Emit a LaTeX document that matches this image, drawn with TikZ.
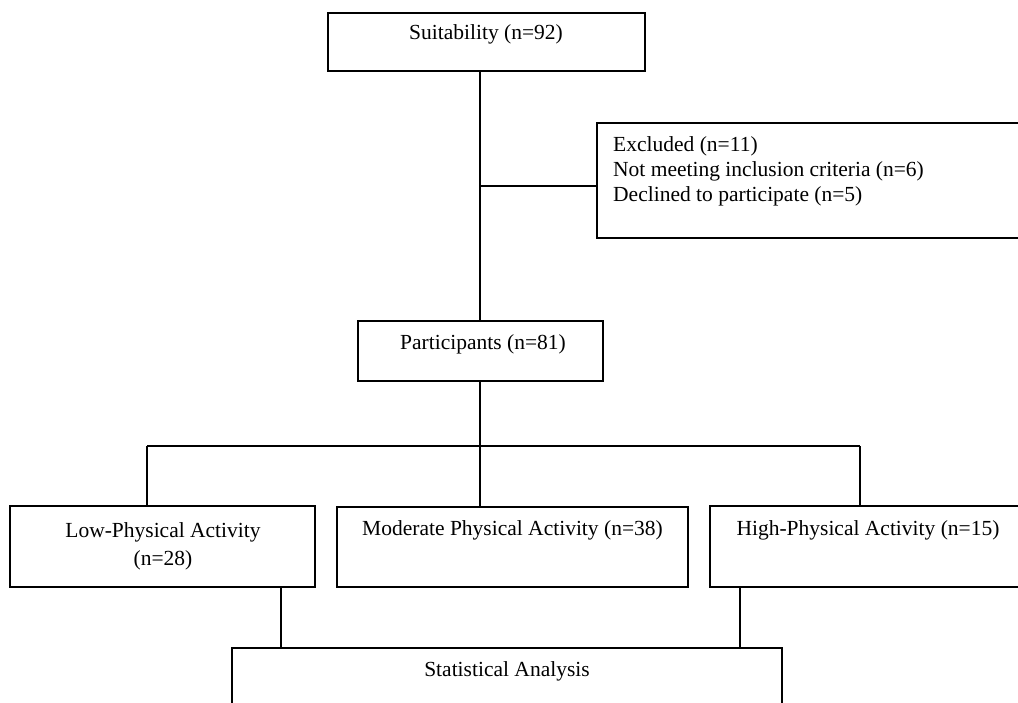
\documentclass[tikz,border=0pt]{standalone}
\usepackage{fontspec}
\setmainfont{Liberation Serif}
\usetikzlibrary{positioning}

\begin{document}
\begin{tikzpicture}[x=1pt,y=-1pt,
  box/.style={draw, line width=1.2pt, inner sep=0pt, fill=white},
  txt/.style={inner sep=0pt, font=\fontsize{21.5}{25}\selectfont},
  conn/.style={line width=1.2pt}]
\useasboundingbox (0,0) rectangle (1018,702);

% Boxes
\node[box, minimum width=317pt, minimum height=58pt] (suit) at (486.5,42) {};
\node[box, minimum width=433pt, minimum height=115pt] (excl) at (813.5,180.5) {};
\node[box, minimum width=245pt, minimum height=60pt] (part) at (480.5,351) {};
\node[box, minimum width=305pt, minimum height=81pt] (low) at (162.5,546.5) {};
\node[box, minimum width=351pt, minimum height=80pt] (mod) at (512.5,547) {};
\node[box, minimum width=320pt, minimum height=81pt] (high) at (870,546.5) {};
\node[box, minimum width=550pt, minimum height=82pt] (stat) at (507,689) {};

% Text in boxes
\node[txt] (suittxt) at (486,34) {Suitability (n=92)};
\node[txt, anchor=west, align=left] (excltxt) at (613,171) {Excluded (n=11)\\Not meeting inclusion criteria (n=6)\\Declined to participate (n=5)};
\node[txt] (parttxt) at (483,344) {Participants (n=81)};
\node[txt, align=center, font=\fontsize{21.5}{28}\selectfont] (lowtxt) at (163,546) {Low-Physical Activity\\(n=28)};
\node[txt] (modtxt) at (512.5,530) {Moderate Physical Activity (n=38)};
\node[txt] (hightxt) at (868,530) {High-Physical Activity (n=15)};
\node[txt] (stattxt) at (507,671) {Statistical Analysis};

% Junctions
\coordinate (split) at (480,186);
\coordinate (hub) at (480,446);
\coordinate (lowtop) at (147,446);
\coordinate (hightop) at (860,446);
\coordinate (lowfoot) at (281,0);
\coordinate (highfoot) at (740,0);

% Connectors
\draw[conn] (suit.south -| split) -- (part.north -| split);
\draw[conn] (split) -- (split -| excl.west);
\draw[conn] (part.south -| hub) -- (hub);
\draw[conn] (lowtop) -- (hightop);
\draw[conn] (lowtop) -- (lowtop |- low.north);
\draw[conn] (hub) -- (hub |- mod.north);
\draw[conn] (hightop) -- (hightop |- high.north);
\draw[conn] (low.south -| lowfoot) -- (stat.north -| lowfoot);
\draw[conn] (high.south -| highfoot) -- (stat.north -| highfoot);

\end{tikzpicture}
\end{document}
